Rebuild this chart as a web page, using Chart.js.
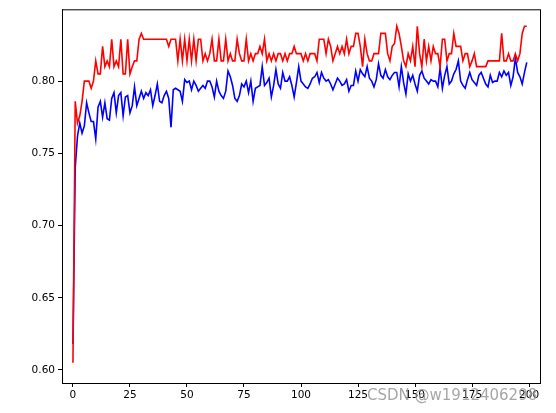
<!DOCTYPE html>
<html>
<head>
<script src="https://cdn.jsdelivr.net/npm/chart.js@4"></script>
<style>
body { margin: 0; background: #fff; }
#wrap { position: relative; width: 556px; height: 413px; }
#mark { position: absolute; left: 367px; top: 386px; font: 15px "DejaVu Sans"; color: rgba(150,150,150,0.85); }
</style>
</head>
<body>
<div id="wrap"><canvas id="c" width="556" height="413"></canvas><div id="mark">CSDN @w1912406298</div></div>
<script>
// red curve
let redVals = [0.605,0.786,0.771,0.776,0.786,0.800,0.800,0.800,0.795,0.800,
0.814,0.805,0.805,0.824,0.810,0.814,0.810,0.829,0.810,0.814,
0.810,0.829,0.805,0.805,0.829,0.805,0.810,0.814,0.814,0.829,
0.833,0.829,0.829,0.829,0.829,0.829,0.829,0.829,0.829,0.829,
0.829,0.829,0.824,0.829,0.829,0.829,0.814,0.829,0.814,0.829,
0.814,0.829,0.814,0.829,0.814,0.829,0.829,0.814,0.819,0.814,
0.819,0.829,0.814,0.814,0.829,0.814,0.814,0.829,0.814,0.819,
0.814,0.814,0.829,0.819,0.814,0.814,0.829,0.814,0.819,0.814,
0.819,0.819,0.824,0.819,0.829,0.814,0.819,0.814,0.819,0.814,
0.819,0.819,0.814,0.819,0.814,0.819,0.819,0.824,0.819,0.819,
0.819,0.814,0.819,0.814,0.819,0.819,0.819,0.814,0.829,0.829,
0.829,0.819,0.829,0.824,0.814,0.819,0.824,0.819,0.824,0.819,
0.829,0.819,0.824,0.824,0.833,0.833,0.824,0.810,0.829,0.819,
0.814,0.814,0.819,0.819,0.819,0.833,0.833,0.833,0.819,0.814,
0.824,0.826,0.838,0.833,0.824,0.814,0.810,0.819,0.814,0.824,
0.810,0.838,0.819,0.810,0.829,0.814,0.824,0.814,0.824,0.819,
0.819,0.810,0.829,0.829,0.814,0.819,0.819,0.833,0.824,0.824,
0.824,0.814,0.819,0.819,0.810,0.814,0.819,0.810,0.810,0.810,
0.810,0.810,0.814,0.814,0.814,0.814,0.814,0.814,0.833,0.814,
0.814,0.819,0.814,0.814,0.819,0.814,0.819,0.833,0.838,0.838];

// blue curve
let blueVals = [0.618,0.740,0.762,0.771,0.764,0.769,0.785,0.778,0.772,0.772,
0.760,0.782,0.786,0.775,0.785,0.774,0.773,0.788,0.792,0.778,
0.790,0.792,0.776,0.789,0.790,0.778,0.783,0.796,0.783,0.788,
0.793,0.788,0.792,0.790,0.794,0.783,0.790,0.798,0.786,0.785,
0.790,0.793,0.788,0.768,0.794,0.795,0.794,0.793,0.786,0.801,
0.799,0.800,0.794,0.800,0.797,0.793,0.795,0.797,0.795,0.800,
0.800,0.796,0.789,0.800,0.793,0.790,0.788,0.793,0.807,0.803,
0.797,0.788,0.786,0.790,0.798,0.796,0.800,0.792,0.800,0.786,
0.795,0.796,0.797,0.810,0.797,0.799,0.802,0.789,0.797,0.808,
0.798,0.795,0.806,0.800,0.800,0.803,0.797,0.789,0.799,0.810,
0.800,0.798,0.796,0.795,0.798,0.802,0.803,0.806,0.799,0.806,
0.802,0.800,0.801,0.798,0.794,0.798,0.802,0.800,0.797,0.798,
0.801,0.793,0.797,0.797,0.807,0.800,0.808,0.805,0.803,0.810,
0.802,0.800,0.796,0.801,0.812,0.804,0.802,0.808,0.803,0.801,
0.804,0.806,0.806,0.796,0.810,0.799,0.791,0.805,0.800,0.804,
0.798,0.793,0.804,0.807,0.802,0.800,0.798,0.801,0.800,0.800,
0.796,0.809,0.795,0.804,0.810,0.798,0.800,0.805,0.808,0.814,
0.800,0.797,0.795,0.801,0.806,0.801,0.799,0.797,0.804,0.806,
0.802,0.798,0.796,0.804,0.799,0.800,0.800,0.806,0.803,0.807,
0.804,0.806,0.797,0.803,0.816,0.806,0.803,0.798,0.806,0.813];

let xTicks = [0,25,50,75,100,125,150,175,200];
let yTicks = [0.60,0.65,0.70,0.75,0.80];

const toPts = (arr) => arr.map((v, i) => ({ x: i, y: v }));

const ctx = document.getElementById('c').getContext('2d');
new Chart(ctx, {
	type: 'line',
	data: {
		datasets: [{
			data: toPts(redVals),
			borderColor: '#ff0000',
			borderWidth: 1.6,
			pointRadius: 0,
			tension: 0
		}, {
			data: toPts(blueVals),
			borderColor: '#0000ff',
			borderWidth: 1.6,
			pointRadius: 0,
			tension: 0
		}]
	},
	options: {
		responsive: false,
		animation: false,
		layout: { padding: { top: 8, right: 16, left: 0, bottom: 0 } },
		plugins: { legend: { display: false }, tooltip: { enabled: false } },
		scales: {
			x: {
				type: 'linear',
				min: -4.8,
				max: 204.8,
				afterBuildTicks: (s) => { s.ticks = xTicks.map(v => ({ value: v })); },
				afterFit: (s) => { s.height = 30; },
				grid: { drawOnChartArea: false, color: '#000', tickLength: 4, tickColor: '#000' },
				border: { color: '#000', width: 1 },
				ticks: { color: '#000', font: { family: 'DejaVu Sans', size: 10.5 }, maxRotation: 0, padding: 2 }
			},
			y: {
				min: 0.591,
				max: 0.8497,
				afterBuildTicks: (s) => { s.ticks = yTicks.map(v => ({ value: v })); },
				afterFit: (s) => { s.width = 62; },
				grid: { drawOnChartArea: false, color: '#000', tickLength: 4, tickColor: '#000' },
				border: { color: '#000', width: 1 },
				ticks: { color: '#000', font: { family: 'DejaVu Sans', size: 10.5 }, padding: 3, callback: (v) => v.toFixed(2) }
			}
		}
	},
	plugins: [{
		id: 'frame',
		afterDraw(chart) {
			const a = chart.chartArea, c = chart.ctx;
			c.save();
			c.strokeStyle = '#000';
			c.lineWidth = 1;
			c.strokeRect(a.left + 0.5, a.top + 0.5, a.right - a.left, a.bottom - a.top);
			c.restore();
		}
	}]
});
</script>
</body>
</html>
